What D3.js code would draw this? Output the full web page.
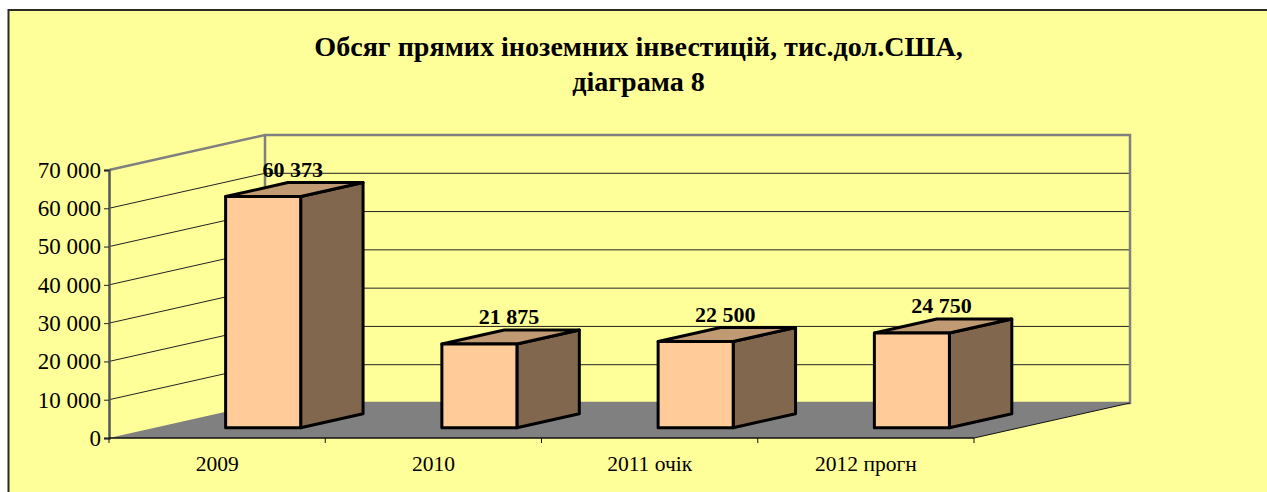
<!DOCTYPE html>
<html>
<head>
<meta charset="utf-8">
<script src="https://cdnjs.cloudflare.com/ajax/libs/d3/7.8.5/d3.min.js"></script>
<style>
    html, body { margin: 0; padding: 0; background: #fff; overflow: hidden; }
    text { font-family: "Liberation Serif", serif; fill: #000; }
</style>
</head>
<body>
<svg id="SVG_CONTAINER" width="1267" height="492"></svg>
<script>
//chart values
const categories = ["2009", "2010", "2011 очік", "2012 прогн"];
const values = [60373, 21875, 22500, 24750];
const valueTicks = [0, 10000, 20000, 30000, 40000, 50000, 60000, 70000];
const titleLines = ["Обсяг прямих іноземних інвестицій, тис.дол.США,", "діаграма 8"];

//dimension of our workspace
const width = 1267, height = 492;

const PLOT = { LEFT: 109, RIGHT: 974, BOTTOM: 438, TOP: 170 };
const DEPTH = { X: 156, Y: -35 };       //offset of the back wall from the front edge
const BAR_FRONT = 0.295, BAR_BACK = 0.695;  //bar position along the depth of the floor

const svg = d3.select("#SVG_CONTAINER");

// thousands separated by a space
const fmt = d3.formatLocale({ decimal: ".", thousands: " ", grouping: [3], currency: ["", ""] }).format(",");

//** SCALES *****************************************
const xScale = d3.scaleBand()
    .domain(categories)
    .range([PLOT.LEFT, PLOT.RIGHT])
    .paddingInner(0.653)
    .paddingOuter(0.3265);

const yScale = d3.scaleLinear()
    .domain([0, 70000])
    .range([PLOT.BOTTOM, PLOT.TOP]);

const dxScale = d3.scaleLinear().domain([0, 1]).range([0, DEPTH.X]);
const dyScale = d3.scaleLinear().domain([0, 1]).range([0, DEPTH.Y]);

// project a point (x on the front edge, value, depth) to the screen
const pt = (x, v, z) => [x + dxScale(z), yScale(v) + dyScale(z)];
const poly = pts => pts.map(p => p.join(",")).join(" ");

//** BACKGROUND *****************************************
svg.append("rect")
    .attr("x", 8.5).attr("y", 10)
    .attr("width", width + 20).attr("height", height + 20)
    .attr("fill", "#FFFF99")
    .attr("stroke", "#2a2a2a")
    .attr("stroke-width", 2);

//** TITLE *****************************************
svg.selectAll(".title")
    .data(titleLines)
    .enter().append("text")
    .attr("class", "title")
    .attr("x", 638.5)
    .attr("y", (d, i) => 56 + i * 35)
    .attr("text-anchor", "middle")
    .attr("font-size", 28.1)
    .attr("font-weight", "bold")
    .text(d => d);

//** FLOOR AND WALLS *****************************************
const xL = PLOT.LEFT, xR = PLOT.RIGHT, vTop = yScale.domain()[1];

svg.append("polygon")
    .attr("points", poly([pt(xL, 0, 0), pt(xR, 0, 0), pt(xR, 0, 1), pt(xL, 0, 1)]))
    .attr("fill", "#808080");

const grid = svg.append("g").attr("class", "grid");
valueTicks.filter(v => v > 0 && v < vTop).forEach(v => {
    grid.append("polyline")
        .attr("points", poly([pt(xL, v, 0), pt(xL, v, 1), pt(xR, v, 1)]))
        .attr("fill", "none")
        .attr("stroke", "#222")
        .attr("stroke-width", 1);
});

// grey wall outline
svg.append("polyline")
    .attr("points", poly([pt(xL, vTop, 0), pt(xL, vTop, 1), pt(xR, vTop, 1), pt(xR, 0, 1), pt(xL, 0, 1)]))
    .attr("fill", "none").attr("stroke", "#808080").attr("stroke-width", 2.5);
svg.append("line")
    .attr("x1", pt(xL, vTop, 1)[0]).attr("y1", pt(xL, vTop, 1)[1])
    .attr("x2", pt(xL, 0, 1)[0]).attr("y2", pt(xL, 0, 1)[1])
    .attr("stroke", "#808080").attr("stroke-width", 2.5);

//** AXES *****************************************
const yAxis = d3.axisLeft(yScale)
    .tickValues(valueTicks)
    .tickFormat(fmt)
    .tickSize(5)
    .tickPadding(3);

const yG = svg.append("g")
    .attr("transform", "translate(" + PLOT.LEFT + ",0)")
    .call(yAxis);
yG.select(".domain").attr("stroke", "#555").attr("stroke-width", 2.5);
yG.selectAll(".tick line").attr("stroke", "#222");
yG.selectAll("text").attr("font-size", 23).attr("font-family", "Liberation Serif");

const xAxis = d3.axisBottom(xScale).tickSize(0).tickPadding(18);
const xG = svg.append("g")
    .attr("transform", "translate(0," + PLOT.BOTTOM + ")")
    .call(xAxis);
xG.select(".domain").remove();
xG.selectAll("text").attr("font-size", 21.5).attr("font-family", "Liberation Serif");

// baseline with ticks between the categories
const step = xScale.step();
svg.append("line")
    .attr("x1", xL).attr("y1", PLOT.BOTTOM).attr("x2", xR).attr("y2", PLOT.BOTTOM)
    .attr("stroke", "#111").attr("stroke-width", 1.5);
svg.append("line")
    .attr("x1", pt(xR, 0, 0)[0]).attr("y1", pt(xR, 0, 0)[1])
    .attr("x2", pt(xR, 0, 1)[0]).attr("y2", pt(xR, 0, 1)[1])
    .attr("stroke", "#111").attr("stroke-width", 1);
d3.range(categories.length + 1).forEach(i => {
    svg.append("line")
        .attr("x1", xL + i * step).attr("x2", xL + i * step)
        .attr("y1", PLOT.BOTTOM).attr("y2", PLOT.BOTTOM + 5)
        .attr("stroke", "#111");
});

//** BARS *****************************************
const bars = svg.selectAll(".bar")
    .data(categories.map((c, i) => ({ c: c, v: values[i] })))
    .enter().append("g")
    .attr("class", "bar")
    .attr("stroke", "#000")
    .attr("stroke-width", 3)
    .attr("stroke-linejoin", "round");

// right side
bars.append("polygon")
    .attr("fill", "#80674D")
    .attr("points", d => {
        const x = xScale(d.c) + xScale.bandwidth();
        return poly([pt(x, 0, BAR_FRONT), pt(x, 0, BAR_BACK), pt(x, d.v, BAR_BACK), pt(x, d.v, BAR_FRONT)]);
    });
// top
bars.append("polygon")
    .attr("fill", "#BF9A73")
    .attr("points", d => {
        const x0 = xScale(d.c), x1 = x0 + xScale.bandwidth();
        return poly([pt(x0, d.v, BAR_FRONT), pt(x1, d.v, BAR_FRONT), pt(x1, d.v, BAR_BACK), pt(x0, d.v, BAR_BACK)]);
    });
// front
bars.append("polygon")
    .attr("fill", "#FFCC99")
    .attr("points", d => {
        const x0 = xScale(d.c), x1 = x0 + xScale.bandwidth();
        return poly([pt(x0, 0, BAR_FRONT), pt(x1, 0, BAR_FRONT), pt(x1, d.v, BAR_FRONT), pt(x0, d.v, BAR_FRONT)]);
    });

//** VALUE LABELS *****************************************
svg.selectAll(".value")
    .data(categories.map((c, i) => ({ c: c, v: values[i] })))
    .enter().append("text")
    .attr("class", "value")
    .attr("x", d => pt(xScale(d.c) + xScale.bandwidth() / 2, d.v, (BAR_FRONT + BAR_BACK) / 2)[0] - 1.5)
    .attr("y", d => yScale(d.v) + dyScale(BAR_FRONT) - 20)
    .attr("text-anchor", "middle")
    .attr("font-size", 22)
    .attr("font-weight", "bold")
    .text(d => fmt(d.v));
</script>
</body>
</html>
